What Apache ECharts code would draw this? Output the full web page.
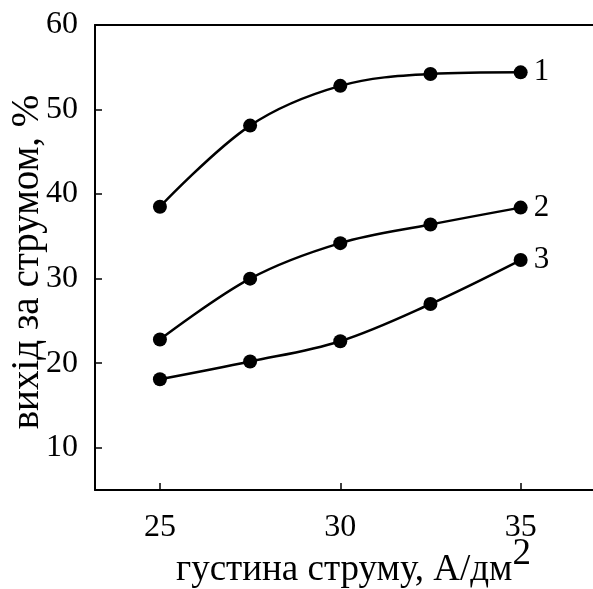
<!DOCTYPE html>
<html>
<head>
<meta charset="utf-8">
<script src="https://cdn.jsdelivr.net/npm/echarts@6/dist/echarts.min.js"></script>
<style>
  html, body { margin: 0; padding: 0; background: #fff; }
  #chart { width: 593px; height: 589px; }
</style>
</head>
<body>
<div id="chart"></div>
<script>
// густина струму, А/дм2
var density = [25, 27.5, 30, 32.5, 35];
// вихід за струмом, %
var curve1 = [38.5, 48.1, 52.8, 54.2, 54.4];
var curve2 = [22.8, 30.0, 34.2, 36.4, 38.4];
var curve3 = [18.1, 20.2, 22.6, 27.0, 32.2];
var curveNames = ['1', '2', '3'];
var xTicks = [25, 30, 35];
var yTicks = [10, 20, 30, 40, 50, 60];

var FONT = 'Liberation Serif';

function pairs(xs, ys) {
    var out = [];
    for (var i = 0; i < xs.length; i++) out.push([xs[i], ys[i]]);
    return out;
}

function makeSeries(name, ys) {
    return {
        name: name,
        type: 'line',
        data: pairs(density, ys),
        smooth: 0.35,
        symbol: 'circle',
        symbolSize: 14,
        itemStyle: { color: '#000' },
        lineStyle: { color: '#000', width: 2.5 },
        endLabel: {
            show: true,
            formatter: name,
            distance: 13,
            color: '#000',
            fontFamily: FONT,
            fontSize: 31
        },
        animation: false
    };
}

var chart = echarts.init(document.getElementById('chart'));
chart.setOption({
    backgroundColor: '#fff',
    animation: false,
    grid: { left: 95, top: 25, bottom: 99, width: 505, containLabel: false, outerBoundsMode: 'none' },
    xAxis: [{
        type: 'value',
        min: 23.2,
        max: 37.2,
        name: '{t|густина струму, А/дм}{s|2}',
        nameLocation: 'middle',
        nameGap: 46,
        nameMoveOverlap: false,
        nameTextStyle: {
            padding: [0, 0, 0, 12],
            rich: {
                t: { fontFamily: FONT, fontSize: 37, lineHeight: 37, color: '#000', padding: [32, 0, 0, 0] },
                s: { fontFamily: FONT, fontSize: 37, lineHeight: 37, color: '#000', verticalAlign: 'top' }
            }
        },
        axisLine: { lineStyle: { color: '#000', width: 2 } },
        axisTick: { inside: true, length: 7, customValues: xTicks, lineStyle: { color: '#000', width: 1.5 } },
        axisLabel: { customValues: xTicks, margin: 22, color: '#000', fontFamily: FONT, fontSize: 32 },
        splitLine: { show: false }
    }, {
        type: 'value',
        position: 'top',
        min: 23.2,
        max: 37.2,
        axisLine: { show: true, lineStyle: { color: '#000', width: 2 } },
        axisTick: { show: false },
        axisLabel: { show: false },
        splitLine: { show: false }
    }],
    yAxis: {
        type: 'value',
        min: 5,
        max: 60,
        name: 'вихід за струмом, %',
        nameLocation: 'middle',
        nameRotate: 90,
        nameGap: 48,
        nameMoveOverlap: false,
        nameTextStyle: { fontFamily: FONT, fontSize: 39, color: '#000', padding: [0, 9, 0, 0] },
        axisLine: { show: true, lineStyle: { color: '#000', width: 2 } },
        axisTick: { inside: true, length: 7, customValues: yTicks, lineStyle: { color: '#000', width: 1.5 } },
        axisLabel: { customValues: yTicks, margin: 17, color: '#000', fontFamily: FONT, fontSize: 32 },
        splitLine: { show: false }
    },
    series: [
        makeSeries(curveNames[0], curve1),
        makeSeries(curveNames[1], curve2),
        makeSeries(curveNames[2], curve3)
    ]
});
</script>
</body>
</html>
